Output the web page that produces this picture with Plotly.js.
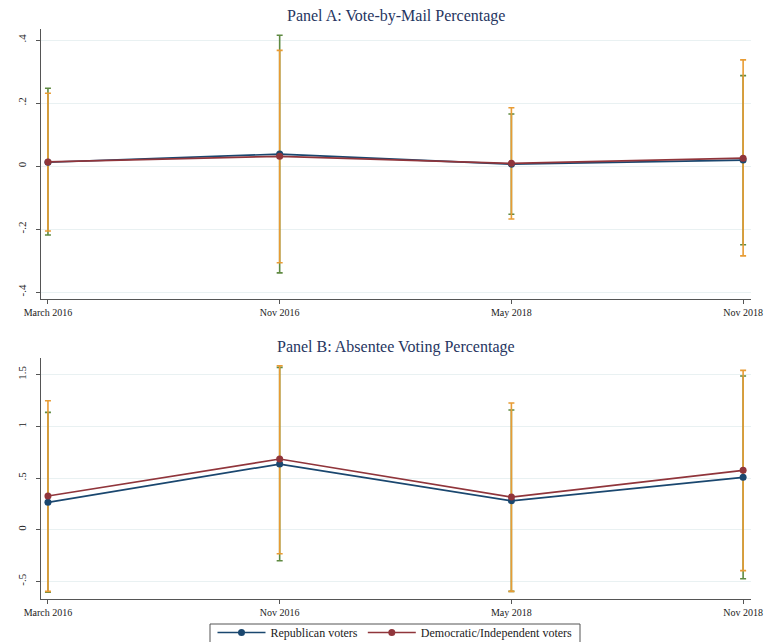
<!DOCTYPE html>
<html>
<head>
<meta charset="utf-8">
<script src="https://cdn.plot.ly/plotly-3.0.1.min.js"></script>
<style>
  html, body { margin: 0; padding: 0; background: #ffffff; }
  #chart { width: 768px; height: 642px; }
</style>
</head>
<body>
<div id="chart"></div>
<script>
// Survey waves
const categories = ['March 2016', 'Nov 2016', 'May 2018', 'Nov 2018'];

// Panel A: vote-by-mail estimates with 95% confidence bounds
const repMail   = [0.012, 0.038, 0.006, 0.019];
const repMailHi = [0.247, 0.415, 0.165, 0.287];
const repMailLo = [-0.219, -0.339, -0.153, -0.250];
const demMail   = [0.013, 0.031, 0.0085, 0.025];
const demMailHi = [0.231, 0.367, 0.185, 0.337];
const demMailLo = [-0.206, -0.307, -0.168, -0.285];

// Panel B: absentee voting estimates with 95% confidence bounds
const repAbs   = [0.265, 0.635, 0.280, 0.507];
const repAbsHi = [1.135, 1.570, 1.158, 1.487];
const repAbsLo = [-0.605, -0.300, -0.596, -0.474];
const demAbs   = [0.326, 0.684, 0.316, 0.574];
const demAbsHi = [1.248, 1.586, 1.225, 1.541];
const demAbsLo = [-0.596, -0.232, -0.596, -0.396];

// Tick labels
const mailTicks = [-0.4, -0.2, 0, 0.2, 0.4];
const mailTickText = ['-.4', '-.2', '0', '.2', '.4'];
const absTicks = [-0.5, 0, 0.5, 1, 1.5];
const absTickText = ['-.5', '0', '.5', '1', '1.5'];

const NAVY = '#1a476f';
const MAROON = '#90353b';
const GREEN = '#5f8a42';
const ORANGE = '#e89c34';
const SERIF = 'Liberation Serif, Times New Roman, serif';

function ciTrace(y, hi, lo, color, xa, ya) {
  return {
    x: categories, y: y, xaxis: xa, yaxis: ya,
    type: 'scatter', mode: 'markers',
    marker: { size: 1, color: 'rgba(0,0,0,0)' },
    error_y: {
      type: 'data', symmetric: false,
      array: hi.map((v, i) => v - y[i]),
      arrayminus: lo.map((v, i) => y[i] - v),
      color: color, thickness: 1.6, width: 3
    },
    showlegend: false, hoverinfo: 'skip'
  };
}

function lineTrace(y, name, color, xa, ya, legend) {
  return {
    x: categories, y: y, xaxis: xa, yaxis: ya, name: name,
    type: 'scatter', mode: 'lines+markers',
    line: { color: color, width: 1.7 },
    marker: { color: color, size: 7 },
    showlegend: legend
  };
}

const data = [
  ciTrace(repMail, repMailHi, repMailLo, GREEN, 'x', 'y'),
  ciTrace(demMail, demMailHi, demMailLo, ORANGE, 'x', 'y'),
  lineTrace(repMail, 'Republican voters', NAVY, 'x', 'y', true),
  lineTrace(demMail, 'Democratic/Independent voters', MAROON, 'x', 'y', true),
  ciTrace(repAbs, repAbsHi, repAbsLo, GREEN, 'x2', 'y2'),
  ciTrace(demAbs, demAbsHi, demAbsLo, ORANGE, 'x2', 'y2'),
  lineTrace(repAbs, 'Republican voters', NAVY, 'x2', 'y2', false),
  lineTrace(demAbs, 'Democratic/Independent voters', MAROON, 'x2', 'y2', false)
];

const W = 768, H = 642;
const xDomain = [41 / W, 751 / W];

function xAxis(anchor) {
  return {
    domain: xDomain, anchor: anchor, type: 'category',
    range: [-0.03, 3.034],
    showline: true, linecolor: '#555555', linewidth: 1,
    ticks: 'outside', ticklen: 4, tickcolor: '#555555', tickwidth: 1,
    showgrid: false, zeroline: false,
    tickfont: { family: SERIF, size: 10, color: '#222222' }
  };
}

function yAxis(anchor, domain, range, vals, text) {
  return {
    domain: domain, anchor: anchor, range: range,
    tickmode: 'array', tickvals: vals, ticktext: text, tickangle: -90,
    showline: true, linecolor: '#555555', linewidth: 1,
    ticks: 'outside', ticklen: 4, tickcolor: '#555555', tickwidth: 1,
    ticklabelstandoff: 6,
    showgrid: true, gridcolor: '#e9f1f2', gridwidth: 1,
    zeroline: false,
    tickfont: { family: SERIF, size: 11, color: '#222222' }
  };
}

const layout = {
  width: W, height: H,
  margin: { l: 0, r: 0, t: 0, b: 0, autoexpand: false },
  paper_bgcolor: '#ffffff', plot_bgcolor: '#ffffff',
  showlegend: true,
  xaxis: xAxis('y'),
  yaxis: yAxis('x', [1 - 299 / H, 1 - 29 / H], [-0.422, 0.435], mailTicks, mailTickText),
  xaxis2: xAxis('y2'),
  yaxis2: yAxis('x2', [1 - 599.3 / H, 1 - 358.3 / H], [-0.673, 1.658], absTicks, absTickText),
  legend: {
    orientation: 'h', x: 395 / W, xanchor: 'center', y: 1 - 618 / H, yanchor: 'top',
    borderwidth: 0, bgcolor: 'rgba(0,0,0,0)',
    font: { family: SERIF, size: 12, color: '#222222' },
    itemwidth: 48
  },
  // Frame around the legend, running off the bottom edge of the figure
  shapes: [
    { type: 'rect', xref: 'paper', yref: 'paper',
      x0: 210 / W, x1: 580 / W, y0: -0.02, y1: 1 - 624 / H,
      line: { color: '#555555', width: 1 }, fillcolor: '#ffffff', layer: 'below' }
  ],
  annotations: [
    { text: 'Panel A: Vote-by-Mail Percentage', xref: 'paper', yref: 'paper',
      x: 396 / W, y: 1 - 16 / H, xanchor: 'center', yanchor: 'middle', showarrow: false,
      font: { family: SERIF, size: 16, color: '#26355f' } },
    { text: 'Panel B: Absentee Voting Percentage', xref: 'paper', yref: 'paper',
      x: 396 / W, y: 1 - 347 / H, xanchor: 'center', yanchor: 'middle', showarrow: false,
      font: { family: SERIF, size: 16, color: '#26355f' } }
  ]
};

Plotly.newPlot('chart', data, layout, { displayModeBar: false, staticPlot: true });
</script>
</body>
</html>
